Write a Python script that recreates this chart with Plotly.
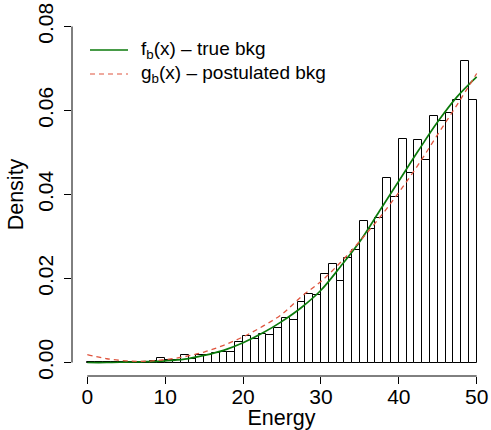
import plotly.graph_objects as go

# ---- data ----
bin_edges = list(range(0, 51))
density = [0.00005, 0.0001, 0.00005, 0.0001, 0.0001, 0.0002, 0.0002, 0.0002, 0.0003, 0.0010,
           0.0006, 0.0005, 0.0017, 0.0009, 0.0018, 0.0018, 0.0023, 0.0024, 0.0025, 0.0050,
           0.0062, 0.0057, 0.0067, 0.0065, 0.0081, 0.0107, 0.0101, 0.0145, 0.0163, 0.0160,
           0.0210, 0.0234, 0.0194, 0.0248, 0.0267, 0.0338, 0.0317, 0.0344, 0.0440, 0.0395,
           0.0533, 0.0452, 0.0530, 0.0483, 0.0586, 0.0575, 0.0594, 0.0625, 0.0717, 0.0626]

curve_x = [0, 2.5, 5, 7.5, 10, 12.5, 15, 17.5, 20, 22.5, 25, 27.5, 30, 32.5, 35, 37.5, 40, 42.5, 45, 47.5, 50]
true_bkg = [0.0000, 0.0000, 0.0001, 0.0002, 0.0004, 0.0008, 0.0017, 0.0029, 0.0047, 0.0070, 0.0098,
            0.0131, 0.0172, 0.0228, 0.0288, 0.0360, 0.0432, 0.0504, 0.0573, 0.0633, 0.0680]
post_bkg = [0.0019, 0.0009, 0.0004, 0.0003, 0.0007, 0.0014, 0.0025, 0.0041, 0.0061, 0.0086, 0.0115,
            0.0157, 0.0193, 0.0238, 0.0289, 0.0344, 0.0405, 0.0471, 0.0543, 0.0614, 0.0688]

x_ticks = [0, 10, 20, 30, 40, 50]
y_ticks = [0.00, 0.02, 0.04, 0.06, 0.08]
y_tick_text = ["0.00", "0.02", "0.04", "0.06", "0.08"]

legend_labels = ["f<sub>b</sub>(x) – true bkg", "g<sub>b</sub>(x) – postulated bkg"]

GREEN = "#0B7A0B"
RED = "#E0553F"
FONT = "Liberation Sans, Arial, Helvetica, sans-serif"

centers = [(a + b) / 2 for a, b in zip(bin_edges[:-1], bin_edges[1:])]
widths = [b - a for a, b in zip(bin_edges[:-1], bin_edges[1:])]

fig = go.Figure()
fig.add_trace(go.Bar(x=centers, y=density, width=widths,
                     marker=dict(color="white", line=dict(color="black", width=1)),
                     showlegend=False))
fig.add_trace(go.Scatter(x=curve_x, y=true_bkg, mode="lines", line_shape="spline",
                         line=dict(color=GREEN, width=1.7), showlegend=False))
fig.add_trace(go.Scatter(x=curve_x, y=post_bkg, mode="lines", line_shape="spline",
                         line=dict(color=RED, width=1.3, dash="5px,4px"), showlegend=False))

W, H = 491, 430
L, R, T, B = 72, 0, 13, 54
pw, ph = W - L - R, H - T - B

def px(xp):
    return (xp - L) / pw

def py(yp):
    return (H - B - yp) / ph

# R-style detached axis lines
fig.add_shape(type="line", xref="x", yref="paper", x0=x_ticks[0], x1=x_ticks[-1], y0=0, y1=0,
              line=dict(color="black", width=1))
fig.add_shape(type="line", xref="paper", yref="y", x0=0, x1=0, y0=y_ticks[0], y1=y_ticks[-1],
              line=dict(color="black", width=1))

# legend (R style)
for i, (lab, col, dash) in enumerate(zip(legend_labels, [GREEN, RED], ["solid", "5px,4px"])):
    yy = 50 + 24 * i
    fig.add_shape(type="line", xref="paper", yref="paper", x0=px(90), x1=px(128),
                  y0=py(yy), y1=py(yy), line=dict(color=col, width=1.6 if i == 0 else 1.2, dash=dash))
    fig.add_annotation(xref="paper", yref="paper", x=px(139), y=py(yy), text=lab,
                       showarrow=False, xanchor="left", yanchor="middle",
                       font=dict(size=19, color="black", family=FONT))

fig.update_layout(
    width=W, height=H,
    margin=dict(l=L, r=R, t=T, b=B, autoexpand=False),
    plot_bgcolor="white", paper_bgcolor="white",
    font=dict(family=FONT, size=21, color="black"),
    bargap=0,
    xaxis=dict(range=[-1.965, 51.84], tickvals=x_ticks, ticks="outside", ticklen=7,
               tickcolor="black", showline=False, showgrid=False, zeroline=False,
               ticklabelstandoff=-5, tickfont=dict(size=21),
               title=dict(text="Energy", standoff=4, font=dict(size=21.5)), automargin=False),
    yaxis=dict(range=[-0.00321, 0.08321], tickvals=y_ticks, ticktext=y_tick_text,
               ticks="outside", ticklen=7, tickcolor="black", tickangle=-90,
               showline=False, showgrid=False, zeroline=False, ticklabelstandoff=3,
               tickfont=dict(size=21),
               title=dict(text="Density", standoff=4, font=dict(size=21.5)), automargin=False),
)

fig.write_html("out.html", config={"displayModeBar": False},
               post_script="document.body.style.margin='0';document.body.style.overflow='hidden';")
